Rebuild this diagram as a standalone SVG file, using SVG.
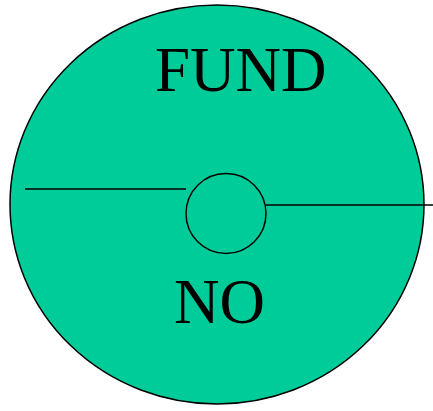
<svg xmlns="http://www.w3.org/2000/svg" width="433" height="411" viewBox="0 0 433 411">
<style>
.shape{fill:#00CC99;stroke:#000;stroke-width:1.5}
.line{stroke:#000;stroke-width:1.5;fill:none}
.lbl{font-family:"Liberation Serif",serif;font-size:63px;fill:#000}
</style>
<g id="disk">
<ellipse class="shape" cx="217" cy="204.5" rx="207" ry="199.5"/>
<text class="lbl" x="155" y="91">FUND</text>
<text class="lbl" x="174" y="323">NO</text>
</g>
<g id="connectors">
<line class="line" x1="25" y1="189" x2="186" y2="189"/>
<line class="line" x1="266" y1="205" x2="433" y2="205"/>
</g>
<g id="hub">
<circle class="shape" cx="226" cy="213.5" r="40"/>
</g>
</svg>
